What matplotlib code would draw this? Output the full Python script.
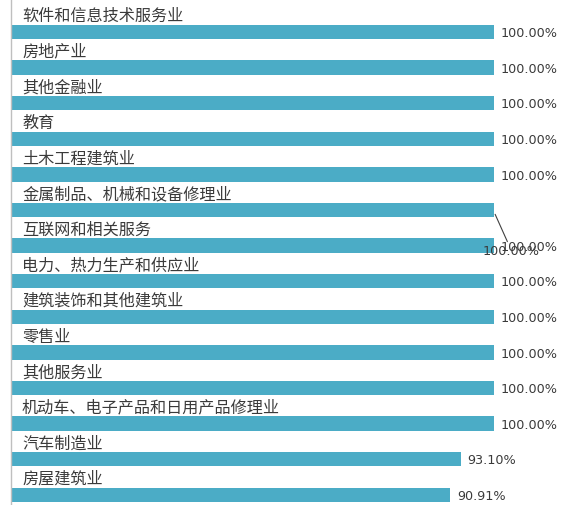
import matplotlib.pyplot as plt

plt.rcParams['font.family'] = ['Noto Sans CJK SC', 'DejaVu Sans']

categories = ['软件和信息技术服务业', '房地产业', '其他金融业', '教育', '土木工程建筑业',
              '金属制品、机械和设备修理业', '互联网和相关服务', '电力、热力生产和供应业',
              '建筑装饰和其他建筑业', '零售业', '其他服务业',
              '机动车、电子产品和日用产品修理业', '汽车制造业', '房屋建筑业']
values = [100.0, 100.0, 100.0, 100.0, 100.0, 100.0, 100.0, 100.0,
          100.0, 100.0, 100.0, 100.0, 93.10, 90.91]
labels = ['%.2f%%' % v for v in values]
moved = 5  # the label that was pulled out with a leader line

bar_color = '#4bacc6'
txt_color = '#3a3a3a'

fig = plt.figure(figsize=(5.61, 5.06), dpi=100)
W, H = 561, 506
ax = fig.add_axes([11 / W, 0, 483 / W, 1])

n = len(categories)
pitch = 35.6
top = 33
ys = list(range(n))
ax.barh(ys, [v / 100 for v in values], height=0.41, color=bar_color, zorder=2)
ax.set_xlim(0, 1)
ax.set_ylim((H - top) / pitch, -top / pitch)

for i, (c, v, lab) in enumerate(zip(categories, values, labels)):
    ax.text(11 / 483, i - 0.46, c, fontsize=11.6, color=txt_color,
            va='center', ha='left')
    if i == moved:
        ax.annotate(lab, xy=(v / 100, i + 0.05),
                    xytext=(v / 100 - 11 / 483, i + 1.15),
                    fontsize=9.2, color=txt_color, family='DejaVu Sans',
                    va='center', ha='left',
                    arrowprops=dict(arrowstyle='-', color='#404040', lw=0.8,
                                    shrinkA=0, shrinkB=2, relpos=(0.45, 1)))
    else:
        ax.text(v / 100 + 7 / 483, i + 0.02, lab, fontsize=9.2,
                color=txt_color, family='DejaVu Sans', va='center', ha='left')

for s in ['top', 'right', 'bottom']:
    ax.spines[s].set_visible(False)
ax.spines['left'].set_color('#bfbfbf')
ax.spines['left'].set_linewidth(1)
ax.set_xticks([])
ax.set_yticks([])

fig.savefig('out.png', dpi=100)
